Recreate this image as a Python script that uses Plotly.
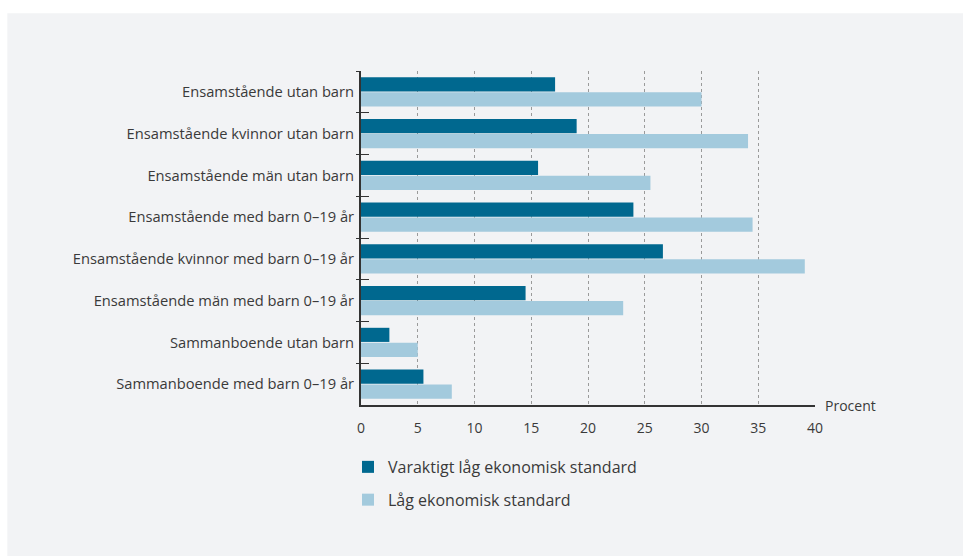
import plotly.graph_objects as go

categories = [
    "Ensamstående utan barn",
    "Ensamstående kvinnor utan barn",
    "Ensamstående män utan barn",
    "Ensamstående med barn 0–19 år",
    "Ensamstående kvinnor med barn 0–19 år",
    "Ensamstående män med barn 0–19 år",
    "Sammanboende utan barn",
    "Sammanboende med barn 0–19 år",
]
varaktigt = [17.1, 19.0, 15.6, 24.0, 26.6, 14.5, 2.5, 5.5]
lag = [30.0, 34.1, 25.5, 34.5, 39.1, 23.1, 5.0, 8.0]
x_ticks = [0, 5, 10, 15, 20, 25, 30, 35, 40]

DARK = "#00688f"
LIGHT = "#a3cadd"
PANEL = "#f2f3f5"
TXT = "#3a3a3a"
FONT = "Open Sans"

W, H = 963, 556
L, R, T, B = 361, 147.6, 70.7, 151
pw = W - L - R
ph = H - T - B

fig = go.Figure()
fig.add_trace(go.Bar(y=categories, x=varaktigt, orientation="h", name="Varaktigt låg ekonomisk standard",
                     marker=dict(color=DARK, line=dict(width=0)), legendgroup="a"))
fig.add_trace(go.Bar(y=categories, x=lag, orientation="h", name="Låg ekonomisk standard",
                     marker=dict(color=LIGHT, line=dict(width=0)), legendgroup="b"))
# invisible trace to carry the outer half of the cross ticks
fig.add_trace(go.Scatter(y=categories, x=[0] * len(categories), yaxis="y2", mode="markers",
                         marker=dict(opacity=0), showlegend=False, hoverinfo="skip"))

fig.update_layout(
    width=W, height=H,
    margin=dict(l=L, r=R, t=T, b=B, pad=0),
    paper_bgcolor="white",
    plot_bgcolor="rgba(0,0,0,0)",
    font=dict(family=FONT, color=TXT, size=14),
    barmode="group", bargap=0.28, bargroupgap=0.06,
    xaxis=dict(range=[0, 40], tickvals=x_ticks, showgrid=True, griddash="dot", gridcolor="#9a9a9a",
               gridwidth=1, zeroline=False, showline=True, linecolor="#333333", linewidth=1.5,
               ticks="", tickfont=dict(size=14, color=TXT), ticklabelstandoff=9, fixedrange=True),
    yaxis=dict(type="category", categoryarray=categories, range=[7.5, -0.5], tickson="boundaries",
               ticks="inside", ticklen=8, tickwidth=1.3, tickcolor="#333333", showline=True,
               linecolor="#333333", linewidth=2, showgrid=False, zeroline=False,
               tickfont=dict(size=14.7, color=TXT), ticklabelstandoff=2),
    yaxis2=dict(type="category", categoryarray=categories, range=[7.5, -0.5], overlaying="y",
                side="left", tickson="boundaries", ticks="outside", ticklen=4, tickwidth=1.3,
                tickcolor="#333333", showticklabels=False, showgrid=False, zeroline=False, showline=False),
    legend=dict(x=(348 - L) / pw, xanchor="left", y=(H - B - 450) / ph, yanchor="top",
                orientation="v", traceorder="grouped", tracegroupgap=9,
                font=dict(size=16, color=TXT), bgcolor="rgba(0,0,0,0)", itemwidth=30),
    shapes=[dict(type="rect", xref="paper", yref="paper", layer="below",
                 x0=(7 - L) / pw, x1=(W - L) / pw + 0.01, y0=(H - B - H) / ph - 0.01, y1=(H - B - 13) / ph,
                 fillcolor=PANEL, line=dict(width=0))],
    annotations=[dict(text="Procent", xref="paper", yref="paper", x=(823 - L) / pw, y=(H - B - 405) / ph,
                      xanchor="left", yanchor="middle", showarrow=False, font=dict(size=14, color=TXT))],
)

fig.write_html("out.html")
